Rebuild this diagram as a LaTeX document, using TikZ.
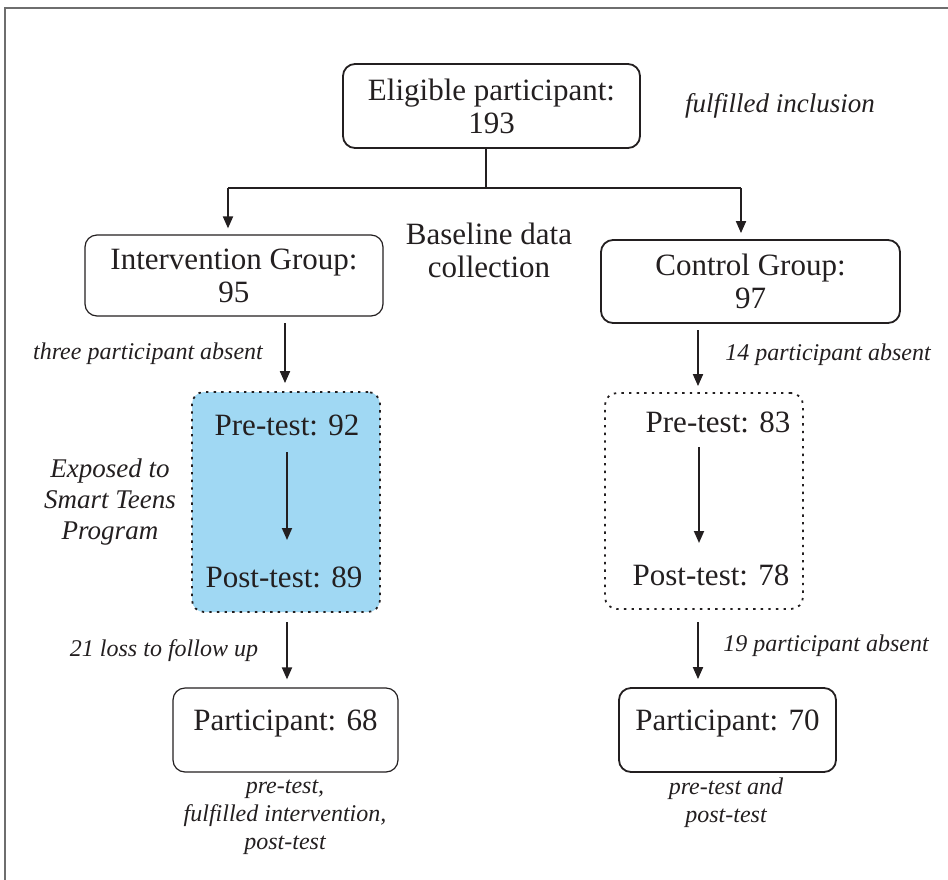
\documentclass[tikz,border=0pt]{standalone}
\usepackage{fontspec}
\setmainfont{Liberation Serif}
\usetikzlibrary{arrows.meta}
\definecolor{ink}{RGB}{35,31,32}
\definecolor{skyfill}{RGB}{160,216,243}
\definecolor{framegray}{RGB}{110,110,110}
\tikzset{
  boxthick/.style={draw=ink, line width=0.9pt, rounded corners=6pt, align=center, font=\fontsize{15.5}{16.5}\selectfont, inner sep=0pt},
  boxthin/.style={draw=ink, line width=0.6pt, rounded corners=6pt, align=center, font=\fontsize{15.5}{16.5}\selectfont, inner sep=0pt},
  dotbox/.style={draw=ink, line width=0.9pt, dash pattern=on 1.2pt off 2.6pt, rounded corners=6pt, inner sep=0pt},
  maintext/.style={align=center, text=ink, font=\fontsize{15.5}{16.5}\selectfont, inner sep=1pt},
  smallit/.style={align=center, text=ink, font=\fontsize{12}{14}\selectfont\itshape, inner sep=1pt},
  midit/.style={align=center, text=ink, font=\fontsize{13.5}{15.5}\selectfont\itshape, inner sep=1pt},
  arr/.style={draw=ink, line width=0.9pt, -{Triangle[length=6pt,width=5pt]}},
  plain/.style={draw=ink, line width=0.9pt},
}
\begin{document}
\begin{tikzpicture}[x=0.5pt, y=-0.5pt, text=ink]
\useasboundingbox (0,0) rectangle (948,879);
% outer frame
\draw[framegray, line width=0.6pt] (5,900) -- (5,8) -- (970,8);

% top
\node[boxthick, minimum width=148.5pt, minimum height=42pt] (elig) at (491.5,106) {Eligible participant:\\193};
\node[midit] (incl) at (780,106) {fulfilled inclusion};

\coordinate (j) at (486,188);
\coordinate (jl) at (228,188);
\coordinate (jr) at (741,188);

\node[boxthin, minimum width=149pt, minimum height=40.5pt] (interv) at (234,275.5) {Intervention Group:\\95};
\node[boxthick, minimum width=149.5pt, minimum height=41.5pt] (ctrl) at (750.5,281.5) {Control Group:\\97};
\node[maintext] (base) at (489,250) {Baseline data\\collection};

\draw[plain] (elig.south -| j) -- (j);
\draw[plain] (jl) -- (jr);
\draw[arr] (jl) -- ([yshift=3pt]jl |- interv.north);
\draw[arr] (jr) -- ([yshift=3pt]jr |- ctrl.north);

% intervention branch
\node[dotbox, fill=skyfill, minimum width=94pt, minimum height=110pt] (blue) at (286,502) {};
\node[maintext] (pre1) at (287,425) {Pre-test: 92};
\node[maintext] (post1) at (284,577) {Post-test: 89};
\coordinate (a1) at (285,323);
\draw[arr] (a1) -- ([yshift=4pt]a1 |- blue.north);
\node[smallit] (abs3) at (148,354) {three participant absent};
\coordinate (c1) at (287,452);
\draw[arr] (c1) -- (c1 |- 0,540);
\node[midit] (expo) at (110,502) {Exposed to\\Smart Teens\\Program};

\node[boxthin, minimum width=112.5pt, minimum height=42pt, text depth=10pt] (p68) at (285.5,730) {Participant: 68};
\coordinate (a2) at (287,622);
\draw[arr] (a2) -- ([yshift=4pt]a2 |- p68.north);
\node[smallit] (loss) at (164,651) {21 loss to follow up};
\node[smallit] (note68) at (285,817) {pre-test,\\fulfilled intervention,\\post-test};

% control branch
\node[dotbox, minimum width=99pt, minimum height=108pt] (cbox) at (704,501) {};
\node[maintext] (pre2) at (718,422) {Pre-test: 83};
\node[maintext] (post2) at (711,575) {Post-test: 78};
\coordinate (a3) at (698,330);
\draw[arr] (a3) -- ([yshift=3pt]a3 |- cbox.north);
\node[smallit] (abs14) at (828,355) {14 participant absent};
\coordinate (c2) at (699,447);
\draw[arr] (c2) -- (c2 |- 0,543);

\node[boxthick, minimum width=108.5pt, minimum height=42pt, text depth=10pt] (p70) at (727.5,730) {Participant: 70};
\coordinate (a4) at (698,622);
\draw[arr] (a4) -- ([yshift=4pt]a4 |- p70.north);
\node[smallit] (abs19) at (826,646) {19 participant absent};
\node[smallit] (note70) at (726,803) {pre-test and\\post-test};
\end{tikzpicture}
\end{document}
